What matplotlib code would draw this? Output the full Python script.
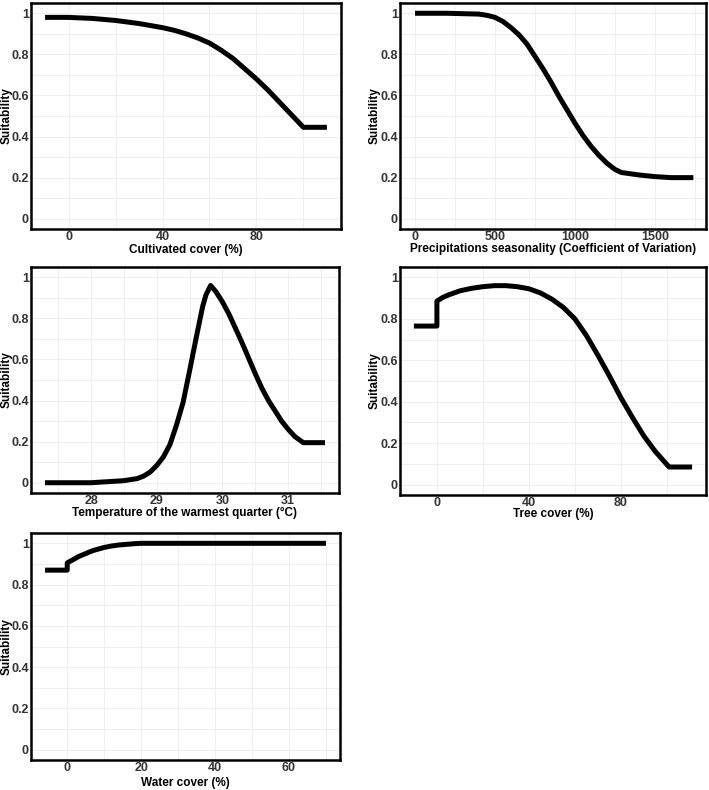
import matplotlib
matplotlib.use("Agg")
import matplotlib.pyplot as plt
from matplotlib.ticker import MultipleLocator

plt.rcParams["font.family"] = ["Liberation Sans", "DejaVu Sans"]

# curvas de resposta
cult_x = [-10, 0, 10, 20, 30, 40, 45, 50, 55, 60, 65, 70, 75, 80, 85, 90, 95, 100, 110]
cult_y = [0.98, 0.98, 0.975, 0.965, 0.95, 0.93, 0.917, 0.90, 0.88, 0.855, 0.82, 0.78, 0.73,
          0.68, 0.625, 0.565, 0.505, 0.445, 0.445]

prec_x = [0, 200, 400, 450, 500, 550, 600, 650, 700, 750, 800, 850, 900, 950, 1000, 1050,
          1100, 1150, 1200, 1250, 1290, 1400, 1500, 1600, 1740]
prec_y = [1.0, 1.0, 0.996, 0.99, 0.98, 0.96, 0.93, 0.895, 0.85, 0.79, 0.73, 0.665, 0.595,
          0.53, 0.465, 0.405, 0.353, 0.308, 0.27, 0.24, 0.225, 0.213, 0.205, 0.2, 0.2]

temp_x = [27.3, 28, 28.5, 28.7, 28.8, 28.9, 29.0, 29.1, 29.2, 29.3, 29.4, 29.5, 29.6, 29.7,
          29.75, 29.82, 29.9, 30.0, 30.1, 30.2, 30.3, 30.4, 30.5, 30.6, 30.7, 30.8, 30.9,
          31.0, 31.1, 31.23, 31.56]
temp_y = [0.0, 0.0, 0.01, 0.02, 0.032, 0.052, 0.084, 0.125, 0.185, 0.28, 0.39, 0.545, 0.705,
          0.86, 0.915, 0.96, 0.93, 0.88, 0.82, 0.75, 0.68, 0.605, 0.53, 0.46, 0.40, 0.35,
          0.30, 0.26, 0.225, 0.195, 0.195]

tree_x = [-10, 0, 0, 2.5, 5, 10, 15, 20, 25, 30, 35, 40, 45, 50, 55, 60, 65, 70, 75, 80, 85,
          90, 95, 101, 111]
tree_y = [0.765, 0.765, 0.885, 0.903, 0.915, 0.935, 0.947, 0.955, 0.96, 0.96, 0.955, 0.945,
          0.925, 0.895, 0.855, 0.80, 0.72, 0.625, 0.525, 0.42, 0.325, 0.235, 0.16, 0.085, 0.085]

water_x = [-6, 0, 0, 1, 2, 3, 4, 5, 6, 7, 8, 10, 12, 14, 16, 18, 20, 30, 50, 70]
water_y = [0.87, 0.87, 0.905, 0.915, 0.925, 0.935, 0.943, 0.95, 0.958, 0.965, 0.97, 0.98,
           0.987, 0.992, 0.995, 0.998, 1.0, 1.0, 1.0, 1.0]

yticks = [0, 0.2, 0.4, 0.6, 0.8, 1]
ytick_labels = ["0", "0.2", "0.4", "0.6", "0.8", "1"]

W, H = 709, 790
fig = plt.figure(figsize=(W / 100, H / 100), dpi=100)

# (x, y, rótulo, ticks, xlim, caixa em px: esq, topo, dir, base, pos rótulo y, pos rótulo x)
panels = [
    (cult_x, cult_y, "Cultivated cover (%)", [0, 40, 80], (-16, 116), (31, 3, 341, 229), -0.058, -0.066),
    (prec_x, prec_y, "Precipitations seasonality (Coefficient of Variation)", [0, 500, 1000, 1500],
     (-94, 1819), (400, 3, 706, 229), -0.062, -0.062),
    (temp_x, temp_y, "Temperature of the warmest quarter (°C)", [28, 29, 30, 31],
     (27.087, 31.773), (31, 267, 339, 493), -0.059, -0.061),
    (tree_x, tree_y, "Tree cover (%)", [0, 40, 80], (-16.05, 117.05), (400, 267, 706, 495), -0.063, -0.059),
    (water_x, water_y, "Water cover (%)", [0, 20, 40, 60], (-9.8, 73.8), (31, 533, 340, 760), -0.06, -0.074),
]

for x, y, label, xt, xlim, box, ylab_pos, xlab_pos in panels:
    l, t, r, b = box
    ax = fig.add_axes([l / W, 1 - b / H, (r - l) / W, (b - t) / H])
    ax.plot(x, y, color="black", linewidth=3.6, solid_capstyle="butt", solid_joinstyle="round")
    ax.set_xlim(*xlim)
    ax.set_ylim(-0.05, 1.05)
    ax.set_xticks(xt)
    ax.set_xticklabels([str(v) for v in xt])
    ax.set_yticks(yticks)
    ax.set_yticklabels(ytick_labels)
    step = xt[1] - xt[0]
    ax.xaxis.set_minor_locator(MultipleLocator(step / 2))
    ax.yaxis.set_minor_locator(MultipleLocator(0.1))
    ax.grid(True, which="both", color="#ebebeb", linewidth=0.6)
    ax.set_axisbelow(True)
    ax.tick_params(which="both", length=0, pad=1.5, labelsize=9, labelcolor="#333333")
    for lab in ax.get_xticklabels() + ax.get_yticklabels():
        lab.set_fontweight("bold")
    for sp in ax.spines.values():
        sp.set_linewidth(1.8)
        sp.set_color("black")
    ax.set_xlabel(label, fontsize=8.5, fontweight="bold")
    ax.set_ylabel("Suitability", fontsize=8.5, fontweight="bold")
    ax.yaxis.set_label_coords(ylab_pos, 0.5)
    ax.xaxis.set_label_coords(0.5, xlab_pos)

fig.savefig("out.png", dpi=100, facecolor="white")
